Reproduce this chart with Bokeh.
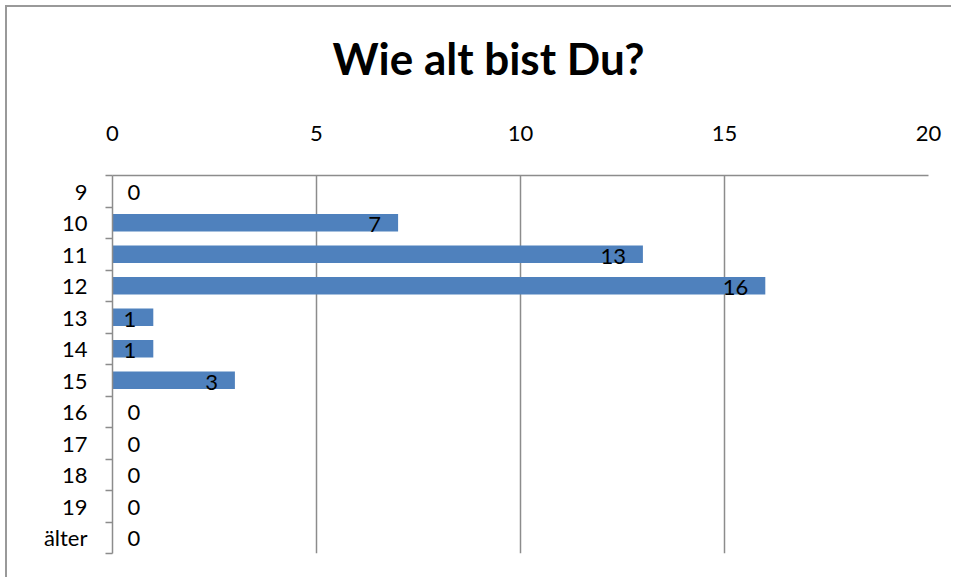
from bokeh.plotting import figure
from bokeh.models import ColumnDataSource, Range1d, FixedTicker, LabelSet
from bokeh.core.properties import value
from bokeh.embed import file_html
from bokeh.resources import INLINE

categories = ["9", "10", "11", "12", "13", "14", "15", "16", "17", "18", "19", "älter"]
counts = [0, 7, 13, 16, 1, 1, 3, 0, 0, 0, 0, 0]
x_ticks = [0, 5, 10, 15, 20]

n = len(categories)
ypos = [n - 1 - i for i in range(n)]

FONT = "Lato"
GRID = "#8c8c8c"
FS = "22px"

p = figure(width=946, height=572, output_backend="svg", toolbar_location=None,
           x_range=Range1d(0, 20), y_range=Range1d(-0.5, n - 0.5),
           x_axis_location="above", title="Wie alt bist Du?",
           min_border_left=105, min_border_right=25, min_border_top=168, min_border_bottom=26)

p.styles = {"margin-left": "5px", "margin-top": "5px",
            "border-left": "2px solid #999999", "border-top": "2px solid #999999"}

p.title.text_font = FONT
p.title.text_font_size = "44px"
p.title.text_font_style = "bold"
p.title.align = "left"
p.title.text_color = "black"
p.title.standoff = 10
p.title.offset = 220

p.outline_line_color = None
p.background_fill_color = "white"

# x axis (above)
p.xaxis.ticker = FixedTicker(ticks=x_ticks)
p.xaxis.major_label_text_font = FONT
p.xaxis.major_label_text_font_size = FS
p.xaxis.major_label_text_color = "black"
p.xaxis.major_tick_line_color = None
p.xaxis.minor_tick_line_color = None
p.xaxis.axis_line_color = GRID
p.xaxis.axis_line_width = 1.5
p.xaxis.major_label_standoff = 29
p.xaxis.axis_label = " "
p.xaxis.axis_label_text_font_size = "10px"
p.xaxis.axis_label_standoff = 20

p.xgrid.ticker = FixedTicker(ticks=[5, 10, 15, 20])
p.xgrid.grid_line_color = GRID
p.xgrid.grid_line_width = 1.5
p.ygrid.grid_line_color = None

# y axis
boundaries = [i - 0.5 for i in range(n + 1)]
p.yaxis.ticker = FixedTicker(ticks=ypos, minor_ticks=boundaries)
p.yaxis.major_label_overrides = {y: c for y, c in zip(ypos, categories)}
p.yaxis.major_label_text_font = FONT
p.yaxis.major_label_text_font_size = FS
p.yaxis.major_label_text_color = "black"
p.yaxis.major_tick_line_color = None
p.yaxis.minor_tick_line_color = GRID
p.yaxis.minor_tick_line_width = 1.5
p.yaxis.minor_tick_out = 7
p.yaxis.minor_tick_in = 0
p.yaxis.axis_line_color = GRID
p.yaxis.axis_line_width = 1.5
p.yaxis.major_label_standoff = 18

src = ColumnDataSource(dict(y=ypos, v=counts))
p.hbar(y="y", right="v", left=0, height=0.55, source=src,
       fill_color="#4F81BD", line_color=None)

nz = [i for i in range(n) if counts[i] != 0]
zz = [i for i in range(n) if counts[i] == 0]
src_nz = ColumnDataSource(dict(y=[ypos[i] for i in nz], v=[counts[i] for i in nz],
                               t=[str(counts[i]) for i in nz]))
src_z = ColumnDataSource(dict(y=[ypos[i] for i in zz], v=[counts[i] for i in zz],
                              t=[str(counts[i]) for i in zz]))

p.add_layout(LabelSet(x="v", y="y", text="t", source=src_nz, text_align="right",
                      text_baseline="middle", x_offset=-17, y_offset=-2,
                      text_font=value(FONT), text_font_size=value(FS), text_color="black"))
p.add_layout(LabelSet(x="v", y="y", text="t", source=src_z, text_align="left",
                      text_baseline="middle", x_offset=15, y_offset=-1,
                      text_font=value(FONT), text_font_size=value(FS), text_color="black"))

open("out.html", "w").write(file_html(p, INLINE))
